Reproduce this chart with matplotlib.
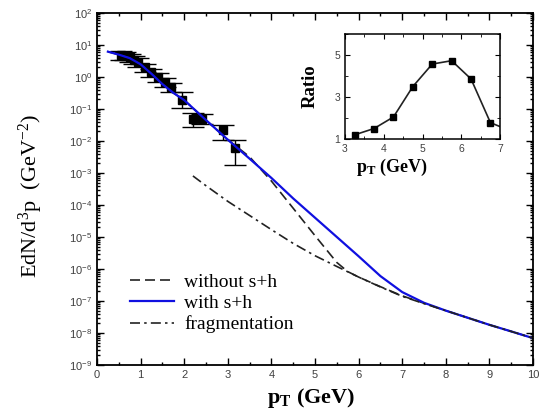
import matplotlib
matplotlib.use("Agg")
import matplotlib.pyplot as plt
from matplotlib.ticker import LogLocator, MultipleLocator, NullFormatter

plt.rcParams['font.family'] = ['Liberation Sans', 'DejaVu Sans']
plt.rcParams['mathtext.fontset'] = 'custom'
plt.rcParams['mathtext.rm'] = 'Liberation Serif'
plt.rcParams['mathtext.it'] = 'Liberation Serif:italic'
plt.rcParams['mathtext.bf'] = 'Liberation Serif:bold'

# spectra, model curves
pt_with = [0.25, 0.5, 0.75, 1.0, 1.25, 1.5, 1.75, 2.0, 2.5, 3.0, 3.5, 4.0, 4.5,
           5.0, 5.5, 6.0, 6.5, 7.0, 7.5, 8.0, 8.5, 9.0, 9.5, 10.0]
with_sh = [6.2, 5.0, 3.9, 2.5, 1.26, 0.6, 0.32, 0.19, 0.045, 0.011, 2.8e-3, 7.0e-4,
           1.6e-4, 4.0e-5, 1.0e-5, 2.5e-6, 6.0e-7, 1.9e-7, 8.8e-8, 5.0e-8, 3.0e-8,
           1.8e-8, 1.12e-8, 6.9e-9]

pt_without = [0.25, 0.5, 0.75, 1.0, 1.25, 1.5, 1.75, 2.0, 2.5, 3.0, 3.5, 4.0, 4.5,
              5.0, 5.5, 5.75, 6.0, 6.5, 7.0, 7.5, 8.0, 8.5, 9.0, 9.5, 10.0]
without_sh = [6.2, 5.0, 3.9, 2.5, 1.26, 0.6, 0.32, 0.19, 0.045, 0.011, 3.2e-3, 5.6e-4,
              7.9e-5, 1.1e-5, 1.6e-6, 8.3e-7, 5.6e-7, 2.8e-7, 1.45e-7, 8.5e-8, 5.0e-8,
              3.0e-8, 1.8e-8, 1.12e-8, 6.9e-9]

pt_frag = [2.2, 2.5, 3.0, 3.5, 4.0, 4.5, 5.0, 5.5, 6.0, 6.5, 7.0, 7.5, 8.0, 8.5,
           9.0, 9.5, 10.0]
frag = [8.1e-4, 4.0e-4, 1.3e-4, 4.7e-5, 1.7e-5, 6.3e-6, 2.6e-6, 1.2e-6, 5.6e-7,
        2.75e-7, 1.4e-7, 8.3e-8, 5.0e-8, 3.0e-8, 1.8e-8, 1.12e-8, 6.9e-9]

# measured points
pt_data = [0.55, 0.65, 0.75, 0.85, 0.95, 1.1, 1.25, 1.4, 1.55, 1.7, 1.95, 2.2, 2.4, 2.9, 3.17]
y_data = [4.9, 4.6, 4.2, 3.5, 3.0, 2.0, 1.4, 1.0, 0.7, 0.5, 0.19, 0.049, 0.05, 0.022, 0.006]
y_err_lo = [1.4, 1.3, 1.2, 1.0, 0.9, 0.6, 0.4, 0.3, 0.2, 0.15, 0.08, 0.022, 0.015, 0.011, 0.0042]
y_err_hi = [1.4, 1.3, 1.2, 1.0, 0.9, 0.6, 0.4, 0.3, 0.2, 0.15, 0.16, 0.026, 0.02, 0.01, 0.0047]

# ratio with/without
pt_ratio = [3.25, 3.75, 4.25, 4.75, 5.25, 5.75, 6.25, 6.75, 7.25]
ratio = [1.2, 1.5, 2.05, 3.5, 4.57, 4.73, 3.86, 1.78, 1.4]

tick_col = '#404040'

fig = plt.figure(figsize=(5.52, 4.13), dpi=100)
ax = fig.add_axes([0.1757, 0.1162, 0.79, 0.8523])

ax.plot(pt_without, without_sh, color='#222222', lw=1.2, ls=(0, (6, 3)), label='without s+h')
ax.plot(pt_with, with_sh, color='#1010e0', lw=1.6, label='with s+h')
ax.plot(pt_frag, frag, color='#222222', lw=1.2, ls=(0, (6, 2.5, 1.5, 2.5)), label='fragmentation')
ax.errorbar(pt_data, y_data, yerr=[y_err_lo, y_err_hi], fmt='s', color='black',
            ms=5.5, capsize=8, elinewidth=1.0, capthick=1.0, zorder=1)

ax.set_yscale('log')
ax.set_xlim(0, 10)
ax.set_ylim(1e-9, 1e2)
ax.xaxis.set_major_locator(MultipleLocator(1))
ax.xaxis.set_minor_locator(MultipleLocator(0.5))
ax.yaxis.set_major_locator(LogLocator(base=10, numticks=20))
ax.yaxis.set_minor_locator(LogLocator(base=10, subs=range(2, 10), numticks=20))
ax.yaxis.set_minor_formatter(NullFormatter())
ax.tick_params(which='both', direction='in', top=True, right=True,
               labelsize=8, labelcolor=tick_col, width=1.0)
ax.tick_params(which='major', length=5)
ax.tick_params(which='minor', length=2.5)
for s in ax.spines.values():
    s.set_linewidth(1.3)

ax.set_xlabel(r'p$_\mathbf{T}$ (GeV)', family='Liberation Serif', fontweight='bold',
              fontsize=16)
ax.xaxis.set_label_coords(0.49, -0.06, transform=ax.transAxes)
ax.xaxis.label.set_va('top')
ax.set_ylabel(r'EdN/d$^3$p  (GeV$^{-2}$)', family='Liberation Serif', fontsize=16)
ax.yaxis.set_label_coords(-0.12, 0.48)

leg = ax.legend(loc='upper left', bbox_to_anchor=(0.035, 0.31), frameon=False,
                handlelength=2.3, labelspacing=0.18, handletextpad=0.5,
                prop={'family': 'Liberation Serif', 'size': 14})

# inset: ratio panel
ins = fig.add_axes([0.625, 0.6634, 0.281, 0.2542])
ins.plot(pt_ratio, ratio, color='#222222', lw=1.2, marker='s', ms=4.5, mfc='black', mec='black')
ins.set_xlim(3, 7)
ins.set_ylim(1, 6)
ins.set_xticks([3, 4, 5, 6, 7])
ins.set_yticks([1, 3, 5])
ins.xaxis.set_minor_locator(MultipleLocator(0.5))
ins.yaxis.set_minor_locator(MultipleLocator(1))
ins.tick_params(which='both', direction='in', top=True, right=True,
                labelsize=7.5, labelcolor=tick_col)
ins.tick_params(which='major', length=3.5)
ins.tick_params(which='minor', length=2)
for s in ins.spines.values():
    s.set_linewidth(1.1)
ins.set_xlabel(r'p$_\mathbf{T}$ (GeV)', family='Liberation Serif', fontweight='bold',
               fontsize=13)
ins.xaxis.set_label_coords(0.30, -0.17)
ins.xaxis.label.set_va('top')
ins.set_ylabel('Ratio', family='Liberation Serif', fontweight='bold', fontsize=13.5)
ins.yaxis.set_label_coords(-0.17, 0.5)

fig.savefig('out.png', dpi=100)
